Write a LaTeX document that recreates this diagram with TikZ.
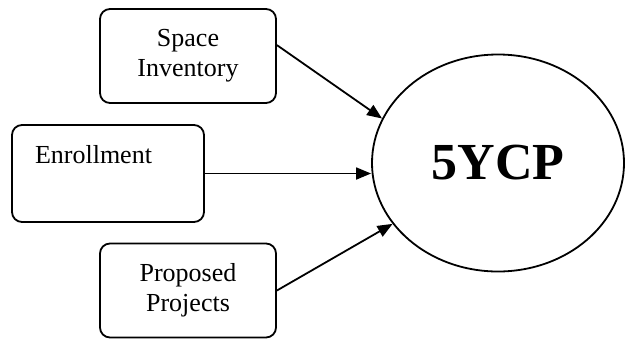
\documentclass[tikz,border=0pt]{standalone}
\usepackage{fontspec}
\setmainfont{Liberation Serif}
\usetikzlibrary{arrows.meta,shapes.geometric}
\begin{document}
\begin{tikzpicture}[x=0.5pt,y=-0.5pt,line width=0.9pt,
				every node/.style={font=\fontsize{13pt}{15pt}\selectfont},
				inbox/.style={draw,rounded corners=5pt,align=center,minimum width=88pt,minimum height=47pt},
				feed/.style={-{Triangle[length=7.5pt,width=6pt]}}]
\useasboundingbox (0,0) rectangle (626,339);
\node[inbox] (space) at (188,56) {Space\\Inventory};
\node[inbox,text width=73pt,align=left,inner xsep=11.5pt,inner ysep=3pt,
	text height=16pt,text depth=26.5pt] (enroll) at (108,173.5) {Enrollment};
\node[inbox] (proposed) at (188,290.5) {Proposed\\Projects};
\node[draw,ellipse,inner sep=0pt,minimum width=126pt,minimum height=108.5pt,
	font=\fontsize{26pt}{30pt}\selectfont\bfseries] (ycp) at (498,163) {5YCP};
\draw[feed] (space.7) -- (ycp.159);
\draw[feed] (enroll.east) -- (enroll.east -| ycp.west);
\draw[feed] (proposed.east) -- (ycp.210);
\end{tikzpicture}
\end{document}
